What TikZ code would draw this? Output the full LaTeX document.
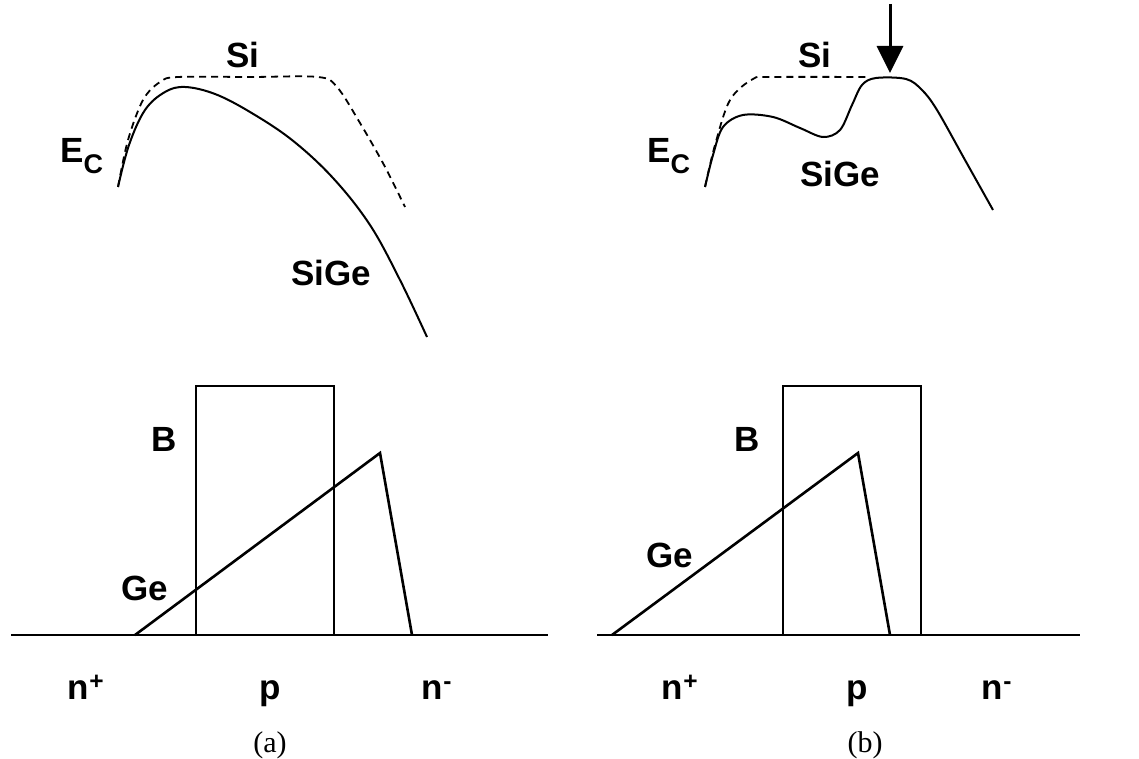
\documentclass[tikz,border=0pt]{standalone}
\usepackage{fontspec}
\setmainfont{Liberation Serif}
\newfontfamily\arialf{Liberation Sans}
\usetikzlibrary{arrows.meta}
\tikzset{
  lab/.style={inner sep=0pt, anchor=base, font=\arialf\bfseries\fontsize{35}{40}\selectfont},
  captext/.style={inner sep=0pt, font=\fontsize{30}{34}\selectfont},
  sicurve/.style={line width=1.8pt, dash pattern=on 7pt off 5pt},
  gecurve/.style={line width=2pt},
  baseline/.style={line width=1.6pt},
  boxB/.style={line width=1.3pt},
  triGe/.style={line width=2.6pt, line join=miter},
}
\newcommand{\Ec}{E\raisebox{-0.3em}{\fontsize{27}{27}\selectfont C}}
\begin{document}
\begin{tikzpicture}[x=1pt,y=-1pt]
\useasboundingbox (0,0) rectangle (1139,759);
% ---------- panel (a) top ----------
\draw[sicurve] plot[smooth, tension=0.55] coordinates {(118,187) (128,140) (143,100) (160,82) (178,77) (250,77) (318,77) (337,87) (360,123) (384,165) (405,207)};
\draw[gecurve] plot[smooth, tension=0.6] coordinates {(118,187) (129,145) (145,110) (165,92) (185,87) (215,94) (250,112) (292,140) (333,178) (370,225) (400,280) (427,337)};
\node[lab] (siA) at (243,68) {Si};
\node[lab, anchor=base west] (ecA) at (60,163) {\Ec};
\node[lab] (sigeA) at (331,285) {SiGe};
% ---------- panel (b) top ----------
\draw[sicurve] plot[smooth, tension=0.55] coordinates {(705,187) (715,145) (730,100) (753,79) (772,77) (870,77)};
\draw[gecurve] plot[smooth, tension=0.55] coordinates {(705,187) (713,155) (723,127) (743,115) (773,117) (800,128) (823,137) (840,130) (852,105) (862,85) (876,78) (906,79) (922,90) (937,110) (965,160) (993,210)};
\node[lab] (siB) at (815,68) {Si};
\node[lab, anchor=base west] (ecB) at (647,163) {\Ec};
\node[lab] (sigeB) at (840,187) {SiGe};
\coordinate (arT) at (890,4);
\coordinate (arH) at (890,73);
\draw[line width=3pt, -{Triangle[width=26pt,length=27pt]}] (arT) -- (arH);
% ---------- panel (a) bottom ----------
\coordinate (a0) at (11,635);
\coordinate (a1) at (548,635);
\draw[baseline] (a0) -- (a1);
\draw[boxB] (196,635) -- (196,386) -- (334,386) -- (334,635);
\draw[triGe] (135,635) -- (380,453) -- (412,635);
\node[lab] (bA) at (164,451) {B};
\node[lab] (geA) at (145,600) {Ge};
\node[lab] (npA) at (86,699) {n\textsuperscript{+}};
\node[lab] (pA) at (270,699) {p};
\node[lab] (nmA) at (437,699) {n\textsuperscript{-}};
\node[captext] (capA) at (270,745) {(a)};
% ---------- panel (b) bottom ----------
\coordinate (b0) at (597,635);
\coordinate (b1) at (1080,635);
\draw[baseline] (b0) -- (b1);
\draw[boxB] (783,635) -- (783,386) -- (921,386) -- (921,635);
\draw[triGe] (612,635) -- (858,453) -- (890,635);
\node[lab] (bB) at (747,451) {B};
\node[lab] (geB) at (670,567) {Ge};
\node[lab] (npB) at (680,699) {n\textsuperscript{+}};
\node[lab] (pB) at (857,699) {p};
\node[lab] (nmB) at (997,699) {n\textsuperscript{-}};
\node[captext] (capB) at (865,745) {(b)};
\end{tikzpicture}
\end{document}
